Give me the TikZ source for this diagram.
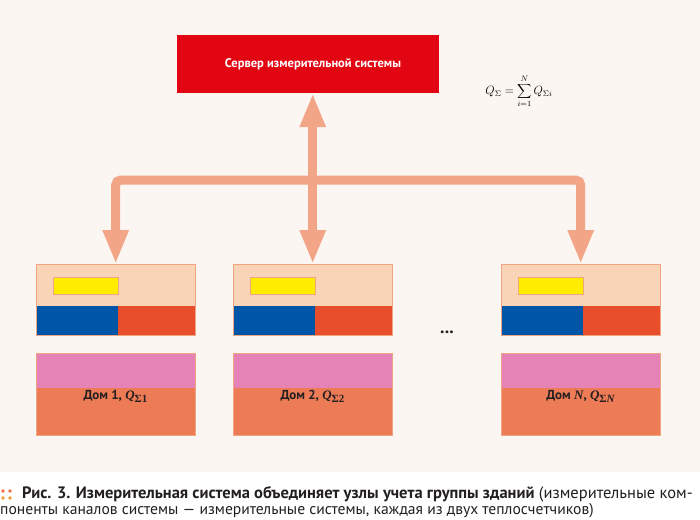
\documentclass[tikz,border=0pt]{standalone}
\usepackage{fontspec}
\setmainfont{PT Sans}
\newfontfamily\tms{Liberation Serif}
\usetikzlibrary{arrows.meta}
\definecolor{bg}{RGB}{252,246,243}
\definecolor{srvred}{RGB}{226,6,19}
\definecolor{arrowc}{RGB}{242,166,135}
\definecolor{peach}{RGB}{249,212,182}
\definecolor{blk}{RGB}{0,86,166}
\definecolor{redor}{RGB}{232,78,44}
\definecolor{pinkc}{RGB}{230,131,182}
\definecolor{salm}{RGB}{236,123,86}
\definecolor{yel}{RGB}{255,236,0}
\definecolor{edge}{RGB}{240,165,130}
\definecolor{txt}{RGB}{35,31,32}
\definecolor{dotc}{RGB}{238,110,70}
\newcommand{\qs}[1]{{\tms\itshape Q}\raisebox{-3pt}{\tms\fontsize{11}{11}\selectfont Σ#1}}
\tikzset{
  server/.style={fill=srvred, text=white, minimum width=262pt, minimum height=58pt, inner sep=0pt,
    font=\bfseries\fontsize{12.5}{14}\selectfont},
  topbox/.style={fill=peach, minimum width=159pt, minimum height=71pt, inner sep=0pt, anchor=north west},
  botbox/.style={fill=salm, minimum width=159pt, minimum height=82pt, inner sep=0pt, anchor=north west},
  border/.style={draw=edge, line width=0.8pt},
  conn/.style={draw=arrowc, line width=9pt, rounded corners=5pt,
    {Triangle[width=24pt,length=34pt]}-{Triangle[width=24pt,length=34pt]}},
  hlabel/.style={anchor=base, inner sep=0pt, text=txt, font=\bfseries\fontsize{13}{15}\selectfont},
  captext/.style={anchor=base west, inner sep=0pt, text=txt, font=\fontsize{16}{18}\selectfont}
}
\begin{document}
\begin{tikzpicture}[x=1pt,y=-1pt]
\useasboundingbox (0,0) rectangle (700,519);
\fill[white] (0,0) rectangle (700,519);
\fill[bg] (0,0) rectangle (700,472);

\node[server] (srv) at (308,64) {\hspace*{10pt}Сервер измерительной системы};

\node (fml) at (519,91) {\fontsize{11.5}{14}\selectfont $\displaystyle Q_{\Sigma}=\sum_{i=1}^{N} Q_{\Sigma i}$};

\foreach \x/\n/\lab in {36/1/{Дом 1, \qs{1}}, 233/2/{Дом 2, \qs{2}}, 501/3/{Дом {\tms\itshape N}, \qs{{\itshape N}}}}{
  \node[topbox] (t\n) at (\x,264) {};
  \fill[blk] (\x,306) rectangle (\x+82,335);
  \fill[redor] (\x+82,306) rectangle (\x+159,335);
  \filldraw[fill=yel, draw=edge, line width=0.6pt] (\x+17,277) rectangle (\x+82,294);
  \draw[border] (t\n.north west) rectangle (t\n.south east);
  \node[botbox] (h\n) at (\x,353) {};
  \fill[pinkc] (\x,353) rectangle (\x+159,388);
  \draw[border] (h\n.north west) rectangle (h\n.south east);
  \node[hlabel] (l\n) at (\x+79.5,399) {\lab};
}

\coordinate (bar) at (313,180);
\draw[conn] (t1.north) |- (bar) -| (t3.north);
\draw[conn] (t2.north) -- (t2.north |- srv.south);

\node[text=txt, font=\bfseries\fontsize{18}{18}\selectfont] (dots) at (447,332) {...};

\fill[dotc] (3,491) circle (1.8);
\fill[dotc] (10,491) circle (1.8);
\fill[dotc!70!yellow] (3,498) circle (1.8);
\fill[dotc!70!yellow] (10,498) circle (1.8);

\node[captext, font=\fontsize{16.5}{18}\selectfont] (cap1) at (22,498) {\textbf{Рис. 3. Измерительная система объединяет узлы учета группы зданий} (измерительные ком-};
\node[captext, font=\fontsize{15.6}{18}\selectfont] (cap2) at (0,514) {поненты каналов системы — измерительные системы, каждая из двух теплосчетчиков)};
\end{tikzpicture}
\end{document}
